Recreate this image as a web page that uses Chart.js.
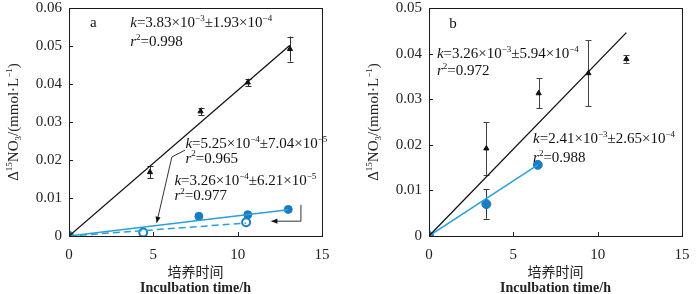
<!DOCTYPE html>
<html><head><meta charset="utf-8">
<script src="https://cdn.jsdelivr.net/npm/chart.js@4.4.0/dist/chart.umd.min.js"></script>
<style>
html,body{margin:0;padding:0;background:#fff;}
#wrap{position:relative;width:700px;height:294px;overflow:hidden;}
canvas{position:absolute;top:0;}
</style></head><body>
<div id="wrap">
<canvas id="ca" width="350" height="294" style="left:0"></canvas>
<canvas id="cb" width="350" height="294" style="left:350px"></canvas>
</div>
<script>
// ---------- Panel a data ----------
const aTimeTri    = [0, 4.8, 7.8, 10.6, 13.1];
const aTri        = [0, 0.0168, 0.0328, 0.0404, 0.0492];
const aTriErr     = [0, 0.0016, 0.0010, 0.0010, 0.0033];
const aTimeFilled = [0, 7.7, 10.6, 13.0];
const aFilled     = [0, 0.0052, 0.0056, 0.0070];
const aTimeOpen   = [0, 4.4, 10.5];
const aOpen       = [0, 0.0009, 0.0036];
const aFitTriX    = [0, 13.1],  aFitTriY    = [0, 0.0502];
const aFitFillX   = [0, 13.0],  aFitFillY   = [0, 0.0069];
const aFitOpenX   = [0, 10.5],  aFitOpenY   = [0, 0.0034];
const aYTicks     = [0, 0.01, 0.02, 0.03, 0.04, 0.05, 0.06];
// ---------- Panel b data ----------
const bTimeTri    = [0, 3.4, 6.5, 9.45, 11.7];
const bTri        = [0, 0.0192, 0.0313, 0.0357, 0.0388];
const bTriErr     = [0, 0.0058, 0.0033, 0.0072, 0.0008];
const bTimeFilled = [0, 3.4, 6.45];
const bFilled     = [0, 0.0070, 0.0156];
const bFilledErr  = [0, 0.0032, 0];
const bFitTriX    = [0, 11.7],  bFitTriY    = [0, 0.0446];
const bFitFillX   = [0, 6.45],  bFitFillY   = [0, 0.0156];
const bYTicks     = [0, 0.01, 0.02, 0.03, 0.04, 0.05];
const xTicks      = [0, 5, 10, 15];
// ---------- Text ----------
const xTitleCN = '培养时间';
const xTitleEN = 'Inculbation time/h';
const yTitleParts = [['Δ','n'],['15','s'],['NO','n'],['3','b'],['/(mmol·L','n'],['−1','s'],[')','n']];
const aNotes = [
  {x:1.25, y:0.0563, parts:[['a','n']]},
  {x:3.63, y:0.0563, parts:[['k','i'],['=3.83×10','n'],['−3','s'],['±1.93×10','n'],['−4','s']]},
  {x:3.63, y:0.0513, parts:[['r','i'],['2','s'],['=0.998','n']]},
  {x:6.9,  y:0.0245, parts:[['k','i'],['=5.25×10','n'],['−4','s'],['±7.04×10','n'],['−5','s']]},
  {x:6.9,  y:0.0207, parts:[['r','i'],['2','s'],['=0.965','n']]},
  {x:6.25, y:0.0147, parts:[['k','i'],['=3.26×10','n'],['−4','s'],['±6.21×10','n'],['−5','s']]},
  {x:6.25, y:0.0108, parts:[['r','i'],['2','s'],['=0.977','n']]}
];
const aArrows = [
  {xs:[6.88, 6.1, 5.2],   ys:[0.0226, 0.0208, 0.0035]},
  {xs:[13.75, 13.75, 12.0], ys:[0.0082, 0.0039, 0.0039]}
];
const bNotes = [
  {x:1.2,  y:0.0467, parts:[['b','n']]},
  {x:0.47, y:0.0401, parts:[['k','i'],['=3.26×10','n'],['−3','s'],['±5.94×10','n'],['−4','s']]},
  {x:0.47, y:0.0364, parts:[['r','i'],['2','s'],['=0.972','n']]},
  {x:6.17, y:0.0215, parts:[['k','i'],['=2.41×10','n'],['−3','s'],['±2.65×10','n'],['−4','s']]},
  {x:6.17, y:0.0174, parts:[['r','i'],['2','s'],['=0.988','n']]}
];

const SERIF = '"Liberation Serif", "Times New Roman", serif';
const BLUE_M = '#1a7dc2', BLUE_L = '#2aa0dc';
const pts = (xs, ys) => xs.map((x, i) => ({x, y: ys[i]}));

function fontFor(t, size) {
  if (t === 'i') return 'italic ' + size + 'px ' + SERIF;
  if (t === 's' || t === 'b') return Math.round(size * 0.62) + 'px ' + SERIF;
  return size + 'px ' + SERIF;
}
function richWidth(ctx, parts, size) {
  let w = 0;
  for (const [txt, t] of parts) { ctx.font = fontFor(t, size); w += ctx.measureText(txt).width; }
  return w;
}
function drawRich(ctx, x, y, parts, size) {
  ctx.textBaseline = 'alphabetic';
  ctx.textAlign = 'left';
  const base = y + size * 0.35;
  let cx = x;
  for (const [txt, t] of parts) {
    ctx.font = fontFor(t, size);
    let dy = 0;
    if (t === 's') dy = -size * 0.42;
    if (t === 'b') dy = size * 0.2;
    ctx.fillText(txt, cx, base + dy);
    cx += ctx.measureText(txt).width;
  }
}
function arrowHead(ctx, x1, y1, x2, y2) {
  const a = Math.atan2(y2 - y1, x2 - x1), L = 6, W = 2.6;
  ctx.beginPath();
  ctx.moveTo(x2, y2);
  ctx.lineTo(x2 - L * Math.cos(a) + W * Math.sin(a), y2 - L * Math.sin(a) - W * Math.cos(a));
  ctx.lineTo(x2 - L * Math.cos(a) - W * Math.sin(a), y2 - L * Math.sin(a) + W * Math.cos(a));
  ctx.closePath();
  ctx.fill();
}

const decor = {
  id: 'decor',
  beforeDatasetsDraw(chart) {
    const {ctx, scales: {x, y}} = chart;
    ctx.save();
    chart.data.datasets.forEach(ds => {
      if (!ds.errors) return;
      ctx.strokeStyle = ds.errColor || '#333';
      ctx.lineWidth = 1;
      ds.data.forEach((p, i) => {
        const e = ds.errors[i];
        if (!e) return;
        const px = Math.round(x.getPixelForValue(p.x)) + 0.5;
        const yt = y.getPixelForValue(p.y + e), yb = y.getPixelForValue(p.y - e);
        ctx.beginPath();
        ctx.moveTo(px, yt); ctx.lineTo(px, yb);
        ctx.moveTo(px - 3, Math.round(yt) + 0.5); ctx.lineTo(px + 3, Math.round(yt) + 0.5);
        ctx.moveTo(px - 3, Math.round(yb) + 0.5); ctx.lineTo(px + 3, Math.round(yb) + 0.5);
        ctx.stroke();
      });
    });
    ctx.restore();
  },
  afterDraw(chart) {
    const {ctx, chartArea: ca, scales: {x, y}} = chart;
    const o = chart.options.plugins.decor;
    ctx.save();
    ctx.strokeStyle = '#1a1a1a';
    ctx.lineWidth = 1;
    ctx.strokeRect(Math.round(ca.left) + 0.5, Math.round(ca.top) + 0.5,
                   Math.round(ca.right - ca.left), Math.round(ca.bottom - ca.top));
    ctx.beginPath();
    y.ticks.forEach(t => {
      if (t.value === y.min || t.value === y.max) return;
      const py = Math.round(y.getPixelForValue(t.value)) + 0.5;
      ctx.moveTo(ca.left, py); ctx.lineTo(ca.left + 4, py);
    });
    x.ticks.forEach(t => {
      if (t.value === x.min || t.value === x.max) return;
      const px = Math.round(x.getPixelForValue(t.value)) + 0.5;
      ctx.moveTo(px, ca.bottom); ctx.lineTo(px, ca.bottom - 4);
    });
    ctx.stroke();
    ctx.fillStyle = '#111';
    o.notes.forEach(n => drawRich(ctx, x.getPixelForValue(n.x), y.getPixelForValue(n.y), n.parts, 15));
    ctx.strokeStyle = '#333'; ctx.fillStyle = '#111'; ctx.lineWidth = 1;
    (o.arrows || []).forEach(a => {
      const P = a.xs.map((v, i) => [x.getPixelForValue(v), y.getPixelForValue(a.ys[i])]);
      ctx.beginPath();
      ctx.moveTo(P[0][0], P[0][1]);
      for (let i = 1; i < P.length; i++) ctx.lineTo(P[i][0], P[i][1]);
      ctx.stroke();
      const n = P.length;
      arrowHead(ctx, P[n - 2][0], P[n - 2][1], P[n - 1][0], P[n - 1][1]);
    });
    ctx.fillStyle = '#222';
    const yc = (ca.top + ca.bottom) / 2;
    ctx.save();
    ctx.translate(o.yTitleX, yc);
    ctx.rotate(-Math.PI / 2);
    const w = richWidth(ctx, yTitleParts, 15);
    drawRich(ctx, -w / 2, 0, yTitleParts, 15);
    ctx.restore();
    const xc = (ca.left + ca.right) / 2;
    ctx.textAlign = 'center'; ctx.textBaseline = 'middle';
    ctx.fillStyle = '#222';
    ctx.font = '14px "Noto Sans CJK SC", sans-serif';
    ctx.fillText(xTitleCN, xc, 272);
    ctx.font = 'bold 14px ' + SERIF;
    ctx.fillText(xTitleEN, xc, 288);
    ctx.restore();
  }
};

function makeChart(id, leftW, rightPad, yMax, yTicksArr, datasets, notes, arrows, yTitleX) {
  return new Chart(document.getElementById(id), {
    type: 'scatter',
    data: {datasets},
    options: {
      responsive: false, animation: false, devicePixelRatio: 1,
      layout: {padding: {left: 0, right: rightPad, top: 8, bottom: 0}},
      plugins: {legend: {display: false}, tooltip: {enabled: false},
        decor: {notes, arrows, yTitleX}},
      scales: {
        x: {type: 'linear', min: 0, max: 15,
          afterBuildTicks: s => { s.ticks = xTicks.map(v => ({value: v})); },
          afterFit: s => { s.height = 58; s.paddingLeft = 0; s.paddingRight = 0; },
          grid: {display: false, drawTicks: false}, border: {display: false},
          ticks: {padding: 10, color: '#222', font: {family: SERIF, size: 15},
            callback: v => String(v)}},
        y: {type: 'linear', min: 0, max: yMax,
          afterBuildTicks: s => { s.ticks = yTicksArr.map(v => ({value: v})); },
          afterFit: s => { s.width = leftW; s.paddingTop = 0; s.paddingBottom = 0; },
          grid: {display: false, drawTicks: false}, border: {display: false},
          ticks: {padding: 7, color: '#222', font: {family: SERIF, size: 15},
            callback: v => v === 0 ? '0' : v.toFixed(2)}}
      }
    },
    plugins: [decor]
  });
}

const fitLine = (xs, ys, color, dash, width) => ({
  data: pts(xs, ys), showLine: true, pointRadius: 0, borderColor: color,
  borderWidth: width || 1.3, borderDash: dash || [], fill: false
});

makeChart('ca', 69, 28, 0.06, aYTicks, [
  fitLine(aFitTriX, aFitTriY, '#111', [], 1.3),
  fitLine(aFitFillX, aFitFillY, BLUE_L, [], 1.5),
  fitLine(aFitOpenX, aFitOpenY, BLUE_L, [7, 4], 1.5),
  {data: pts(aTimeTri, aTri), errors: aTriErr, errColor: '#333', pointStyle: 'triangle',
   pointRadius: 3, backgroundColor: '#111', borderColor: '#111', borderWidth: 1},
  {data: pts(aTimeFilled, aFilled), pointStyle: 'circle', pointRadius: 4,
   backgroundColor: BLUE_M, borderColor: BLUE_M, borderWidth: 1},
  {data: pts(aTimeOpen, aOpen), pointStyle: 'circle', pointRadius: 4,
   backgroundColor: '#fff', borderColor: BLUE_M, borderWidth: 2}
], aNotes, aArrows, 13);

makeChart('cb', 79, 18, 0.05, bYTicks, [
  fitLine(bFitTriX, bFitTriY, '#111', [], 1.3),
  fitLine(bFitFillX, bFitFillY, BLUE_L, [], 1.5),
  {data: pts(bTimeTri, bTri), errors: bTriErr, errColor: '#444', pointStyle: 'triangle',
   pointRadius: 3, backgroundColor: '#111', borderColor: '#111', borderWidth: 1},
  {data: pts(bTimeFilled, bFilled), errors: bFilledErr, errColor: '#333', pointStyle: 'circle',
   pointRadius: 4.5, backgroundColor: BLUE_M, borderColor: BLUE_M, borderWidth: 1}
], bNotes, [], 23);
</script>
</body></html>
